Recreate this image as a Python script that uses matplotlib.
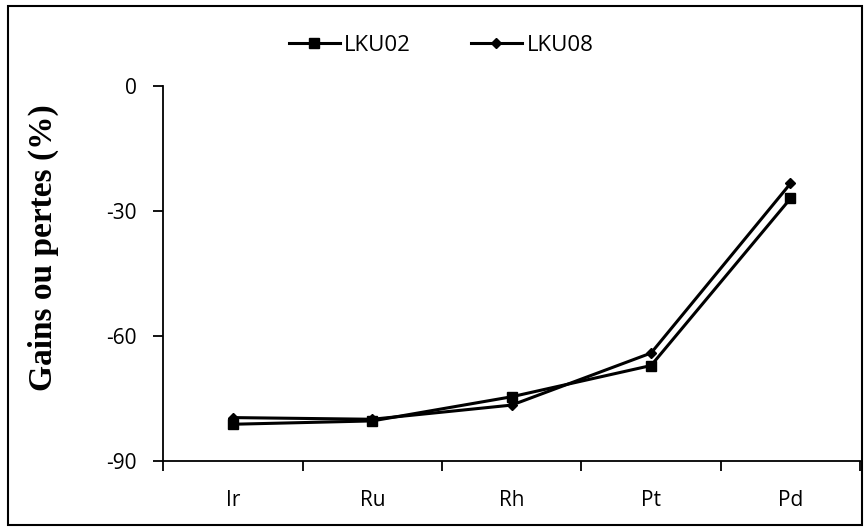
import matplotlib.pyplot as plt
import numpy as np
from matplotlib.patches import Rectangle

# data
elements = ["Ir", "Ru", "Rh", "Pt", "Pd"]
lku02 = [-81.2, -80.4, -74.6, -67.1, -27.0]
lku08 = [-79.6, -80.0, -76.6, -64.1, -23.4]
yticks = [-90, -60, -30, 0]

fig = plt.figure(figsize=(8.68, 5.31), dpi=100)
ax = fig.add_axes([0.188, 0.132, 0.803, 0.706])

x = np.arange(len(elements)) + 0.5
ax.plot(x, lku02, color="black", lw=2.2, marker="s", ms=7.5, label="LKU02")
ax.plot(x, lku08, color="black", lw=2.2, marker="D", ms=5, label="LKU08")

ax.set_xlim(0, len(elements))
ax.set_ylim(-90, 0)
ax.set_yticks(yticks)
ax.set_yticklabels([str(v) for v in yticks], fontsize=15, fontfamily="Open Sans")
ax.set_xticks(np.arange(len(elements) + 1))
ax.set_xticklabels([])
ax.set_xticks(x, minor=True)
ax.set_xticklabels(elements, minor=True, fontsize=15, fontfamily="Open Sans")
ax.tick_params(axis="x", which="major", direction="out", length=7, width=1.3)
ax.tick_params(axis="x", which="minor", length=0, pad=21)
ax.tick_params(axis="y", direction="out", length=7, width=1.3, pad=12)

for s in ["top", "right"]:
    ax.spines[s].set_visible(False)
for s in ["left", "bottom"]:
    ax.spines[s].set_linewidth(1.3)

fig.text(43 / 868, 1 - 248 / 531, "Gains ou pertes (%)", rotation=90,
         ha="center", va="center", fontsize=24, fontweight="bold",
         fontfamily="Liberation Serif")

fig.legend(loc="center", bbox_to_anchor=(0.508, 0.915), ncol=2, frameon=False,
           prop={"family": "Open Sans", "size": 16}, handlelength=2.3,
           columnspacing=2.7, handletextpad=0.2)

# border around the whole figure
fig.patches.append(Rectangle((8 / 868, 1 - 525 / 531), 854 / 868, 519 / 531,
                             transform=fig.transFigure, fill=False,
                             edgecolor="black", lw=1.5))

fig.savefig("out.png", dpi=100)
